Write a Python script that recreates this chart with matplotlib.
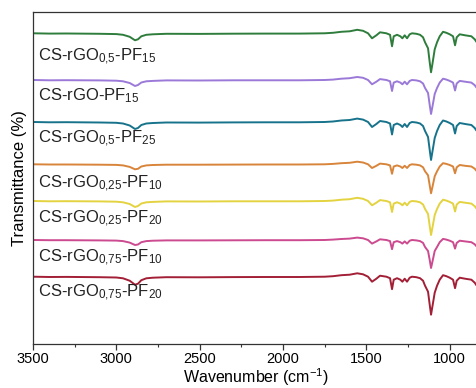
import numpy as np
import matplotlib.pyplot as plt

plt.rcParams['font.family'] = ['Liberation Sans', 'DejaVu Sans']
plt.rcParams['mathtext.default'] = 'regular'

# shared wavenumber grid (cm-1)
wavenumber = [3500, 3400, 3300, 3100, 3000, 2960, 2920, 2888, 2870, 2850,
              2820, 2780, 2700, 2500, 2300, 2100, 1900, 1750, 1700, 1650,
              1600, 1555, 1520, 1490, 1466, 1440, 1418, 1380, 1358, 1346,
              1336, 1316, 1296, 1284, 1270, 1256, 1240, 1226, 1200, 1178,
              1160, 1148, 1130, 1120, 1112, 1104, 1090, 1076, 1060, 1040,
              1020, 1000, 980, 968, 958, 940, 908, 870, 850, 842]

# absorption depth below each curve's baseline
pf15_05 = [0, 0.3, 0.2, 0.5, 0.8, 1.5, 3.5, 7, 6, 3,
           1.5, 1, 0.5, 0.6, 0.4, 0.3, 0.3, 0, -0.5, -1.5,
           -2, -3.5, -2.5, 0, 5, 2, -1, 0, 1.5, 13,
           3, 1.5, 3, 5, 2, 5, 1, 0, 0.5, 1.5,
           4, 9, 15, 29, 39, 31, 16, 9, 3, -1.5,
           -0.5, 1, 3, 12, 4, 1, 2, 3, 6, 8]
pf15 = [0, 0.3, 0.2, 0.4, 0.7, 1.3, 3, 6, 5, 2.5,
        1.3, 0.9, 0.4, 0.5, 0.3, 0.3, 0.3, 0, -0.4, -1.3,
        -1.8, -3, -2.2, 0, 4.3, 1.7, -0.9, 0, 1.3, 11,
        2.6, 1.3, 2.6, 4.3, 1.7, 4.3, 0.9, 0, 0.4, 1.3,
        3.5, 8, 13, 25, 34, 27, 14, 8, 2.6, -1.3,
        -0.4, 0.9, 2.6, 10.5, 3.5, 0.9, 1.7, 2.6, 5.2, 7]
pf25_05 = [0, 0.3, 0.2, 0.5, 0.8, 1.5, 3.5, 7, 6, 3,
           1.5, 1, 0.5, 0.6, 0.4, 0.3, 0.3, 0, -0.5, -1.5,
           -2, -3.4, -2.4, 0, 5, 2, -1, 0, 1.5, 12.5,
           3, 1.5, 3, 5, 2, 5, 1, 0, 0.5, 1.5,
           4, 9, 15, 28, 38, 30, 16, 9, 3, -1.5,
           -0.5, 1, 3, 11.5, 4, 1, 2, 3, 6, 8]
pf10_025 = [0, 0.2, 0.2, 0.4, 0.6, 1.1, 2.6, 5, 4.5, 2.2,
            1.1, 0.7, 0.4, 0.4, 0.3, 0.2, 0.2, 0, -0.4, -1.1,
            -1.5, -2.6, -1.8, 0, 3.7, 1.5, -0.7, 0, 1.1, 9.5,
            2.2, 1.1, 2.2, 3.7, 1.5, 3.7, 0.7, 0, 0.4, 1.1,
            3, 7, 11, 21, 29, 23, 12, 7, 2.2, -1.1,
            -0.4, 0.7, 2.2, 9, 3, 0.7, 1.5, 2.2, 4.4, 6]
pf20_025 = [0, 0.3, 0.2, 0.4, 0.7, 1.3, 3, 6, 5, 2.5,
            1.3, 0.9, 0.4, 0.5, 0.3, 0.3, 0.3, 0, -0.4, -1.3,
            -1.8, -3.2, -2.2, 0, 4.3, 1.7, -0.9, 0, 1.3, 11,
            2.6, 1.3, 2.6, 4.3, 1.7, 4.3, 0.9, 0, 0.4, 1.3,
            3.5, 8, 13, 25, 34, 27, 14, 8, 2.6, -1.3,
            -0.4, 0.9, 2.6, 10.5, 3.5, 0.9, 1.7, 2.6, 5.2, 7]
pf10_075 = [0, 0.2, 0.2, 0.4, 0.6, 1.1, 2.6, 5, 4.5, 2.2,
            1.1, 0.7, 0.4, 0.4, 0.3, 0.2, 0.2, 0, -0.4, -1.0,
            -1.4, -2.4, -1.7, 0, 3.6, 1.4, -0.7, 0, 1.1, 9.2,
            2.2, 1.1, 2.2, 3.6, 1.4, 3.6, 0.7, 0, 0.4, 1.1,
            2.9, 7, 11, 20, 28, 22, 11, 7, 2.2, -1.1,
            -0.4, 0.7, 2.2, 8.6, 2.9, 0.7, 1.4, 2.2, 4.3, 5.8]
pf20_075 = [0, 0.3, 0.2, 0.5, 0.8, 1.6, 4, 8, 7, 3.5,
            1.6, 1, 0.5, 0.6, 0.4, 0.3, 0.3, 0, -0.5, -1.5,
            -2, -3.4, -2.4, 0, 5, 2, -1, 0, 1.5, 12.5,
            3, 1.5, 3, 5, 2, 5, 1, 0, 0.5, 1.5,
            4, 9, 15, 28, 38, 30, 16, 9, 3, -1.5,
            -0.5, 1, 3, 11.5, 4, 1, 2, 3, 6, 8]

series = [pf15_05, pf15, pf25_05, pf10_025, pf20_025, pf10_075, pf20_075]
labels = [r'CS-rGO$_{0{,}5}$-PF$_{15}$', r'CS-rGO-PF$_{15}$',
          r'CS-rGO$_{0{,}5}$-PF$_{25}$', r'CS-rGO$_{0{,}25}$-PF$_{10}$',
          r'CS-rGO$_{0{,}25}$-PF$_{20}$', r'CS-rGO$_{0{,}75}$-PF$_{10}$',
          r'CS-rGO$_{0{,}75}$-PF$_{20}$']
colors = ['#2f7d3c', '#9b79d8', '#17738b', '#d8853b', '#e4d340', '#cc4a8f', '#a21f36']
offsets = [310.7, 264, 222, 179.7, 143, 104, 67.3]
label_y = [283, 244, 201, 156, 121, 82, 47]

fig = plt.figure(figsize=(4.76, 3.88), dpi=100)
ax = fig.add_axes([0.0693, 0.1134, 0.935, 0.8557])

wn = np.array(wavenumber)
for s, lab, c, off, ly in zip(series, labels, colors, offsets, label_y):
    ax.plot(wn, off - np.array(s), color=c, lw=1.4)
    ax.text(3470, ly, lab, fontsize=12, color='#222222', va='baseline', ha='left')

ax.set_xlim(3500, 830)
ax.set_ylim(0, 332)
ax.set_xticks([3500, 3000, 2500, 2000, 1500, 1000])
ax.set_xticks([3250, 2750, 2250, 1750, 1250], minor=True)
ax.set_yticks([])
ax.spines['right'].set_visible(False)
for sp in ['left', 'bottom', 'top']:
    ax.spines[sp].set_color('#333333')
    ax.spines[sp].set_linewidth(0.9)
ax.tick_params(axis='x', which='major', length=4, width=0.9, labelsize=10.5, color='#333333', pad=2)
ax.tick_params(axis='x', which='minor', length=2.5, width=0.8, color='#333333')
ax.set_xlabel('Wavenumber (cm$^{-1}$)', fontsize=11.5, labelpad=0)
ax.set_ylabel('Transmittance (%)', fontsize=12, labelpad=4)

fig.savefig('out.png', dpi=100)
